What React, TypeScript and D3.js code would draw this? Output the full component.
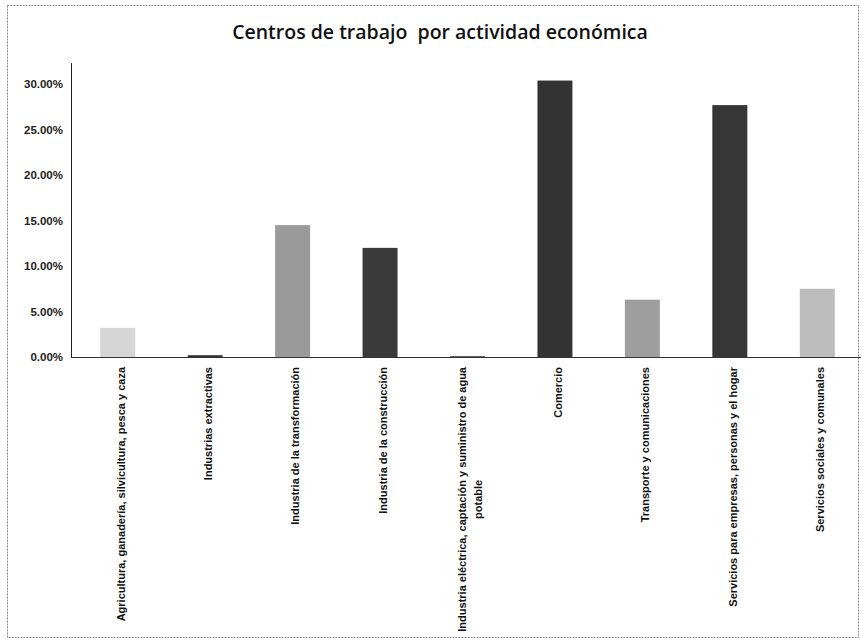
import React, { useEffect, useRef } from 'react'
import * as d3 from 'd3'

const title = 'Centros de trabajo  por actividad económica'

const categories = [
  'Agricultura, ganadería, silvicultura, pesca y caza',
  'Industrias extractivas',
  'Industria de la transformación',
  'Industria de la construcción',
  'Industria eléctrica, captación y suministro de agua potable',
  'Comercio',
  'Transporte y comunicaciones',
  'Servicios para empresas, personas y el hogar',
  'Servicios sociales y comunales'
]

// label lines as wrapped in the original
const labelLines = [
  ['Agricultura, ganadería, silvicultura, pesca y caza'],
  ['Industrias extractivas'],
  ['Industria de la transformación'],
  ['Industria de la construcción'],
  ['Industria eléctrica, captación y suministro de agua', 'potable'],
  ['Comercio'],
  ['Transporte y comunicaciones'],
  ['Servicios para empresas, personas y el hogar'],
  ['Servicios sociales y comunales']
]

const values = [0.032, 0.002, 0.145, 0.120, 0.001, 0.304, 0.063, 0.277, 0.075]

const yTicks = [0, 0.05, 0.10, 0.15, 0.20, 0.25, 0.30]

const barColors = ['#d6d6d6', '#333333', '#9a9a9a', '#3a3a3a', '#555555', '#333333', '#9e9e9e', '#363636', '#bdbdbd']

const W = 861
const H = 641

function App () {
  const ref = useRef<SVGSVGElement>(null)

  useEffect(() => {
    const svg = d3.select(ref.current)
    svg.selectAll('*').remove()

    const margin = { top: 66, left: 74, bottom: 284, right: 0 }
    const baseY = H - margin.bottom

    const x = d3.scaleBand<string>()
      .domain(categories)
      .range([margin.left, W - margin.right])
      .paddingInner(0.6)
      .paddingOuter(0.3)

    const y = d3.scaleLinear()
      .domain([0, 0.32])
      .range([baseY, margin.top])

    // outer frame
    svg.append('rect')
      .attr('x', 7.5).attr('y', 5.5)
      .attr('width', W - 10).attr('height', H - 9)
      .attr('fill', 'none')
      .attr('stroke', '#888')
      .attr('stroke-dasharray', '2,1')

    svg.append('text')
      .attr('x', 440).attr('y', 39)
      .attr('text-anchor', 'middle')
      .attr('font-family', '"Open Sans", sans-serif')
      .attr('font-weight', 600)
      .attr('font-size', 19.5)
      .attr('fill', '#111')
      .style('white-space', 'pre')
      .text(title)

    // bars
    svg.append('g').selectAll('rect')
      .data(values)
      .enter().append('rect')
      .attr('x', (d, i) => x(categories[i]) as number)
      .attr('y', (d) => y(d))
      .attr('width', x.bandwidth())
      .attr('height', (d) => baseY - y(d))
      .attr('fill', (d, i) => barColors[i])

    // y axis
    const yAxis = svg.append('g')
      .attr('transform', 'translate(71,0)')
      .call(d3.axisLeft(y).tickValues(yTicks).tickSize(0).tickPadding(8).tickFormat(d3.format('.2%')))
    yAxis.select('.domain').remove()
    yAxis.selectAll('text')
      .attr('font-family', '"Liberation Sans", Arial, sans-serif')
      .attr('font-weight', 'bold')
      .attr('font-size', 11.5)
      .attr('fill', '#222')

    svg.append('line')
      .attr('x1', 71.5).attr('x2', 71.5)
      .attr('y1', 63).attr('y2', baseY + 1)
      .attr('stroke', '#222')

    // x axis
    svg.append('line')
      .attr('x1', 71).attr('x2', W)
      .attr('y1', baseY + 0.5).attr('y2', baseY + 0.5)
      .attr('stroke', '#333')

    const labels = svg.append('g')
    labelLines.forEach((lines, i) => {
      const cx = (x(categories[i]) as number) + x.bandwidth() / 2 + 3
      const gap = 16
      const offset = -((lines.length - 1) * gap) / 2
      let firstLen = 0
      lines.forEach((line, j) => {
        const t = labels.append('text')
          .attr('font-family', '"Liberation Sans", Arial, sans-serif')
          .attr('font-weight', 'bold')
          .attr('font-size', 11)
          .attr('fill', '#111')
          .attr('dy', '0.35em')
          .text(line)
        const lx = cx + offset + j * gap
        if (j === 0) {
          firstLen = (t.node() as SVGTextElement).getComputedTextLength()
          t.attr('text-anchor', 'end')
            .attr('transform', `translate(${lx},367) rotate(-90)`)
        } else {
          t.attr('text-anchor', 'middle')
            .attr('transform', `translate(${lx},${367 + firstLen / 2}) rotate(-90)`)
        }
      })
    })
  }, [])

  return (
    <svg ref={ref} width={W} height={H} style={{ position: 'absolute', left: 0, top: 0, background: '#fff' }} />
  )
}

export default App
